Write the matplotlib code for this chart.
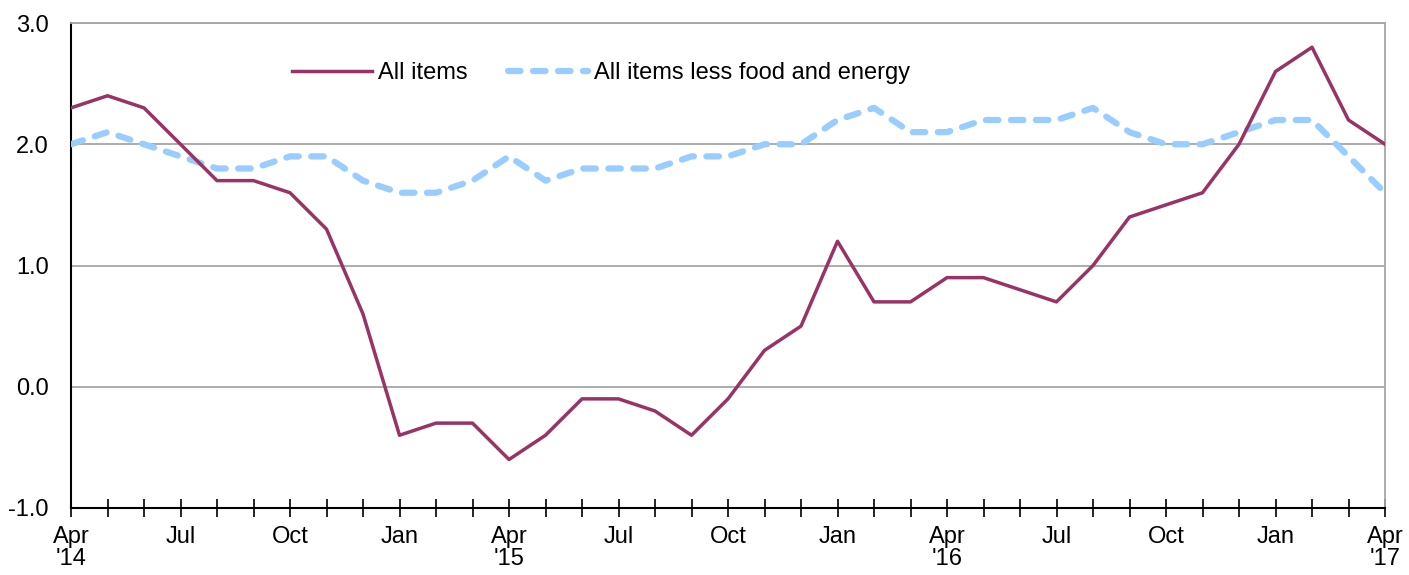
import matplotlib
matplotlib.use("Agg")
import matplotlib.pyplot as plt

months = ["Apr\n'14", "May", "Jun", "Jul", "Aug", "Sep", "Oct", "Nov", "Dec",
          "Jan", "Feb", "Mar", "Apr\n'15", "May", "Jun", "Jul", "Aug", "Sep", "Oct", "Nov", "Dec",
          "Jan", "Feb", "Mar", "Apr\n'16", "May", "Jun", "Jul", "Aug", "Sep", "Oct", "Nov", "Dec",
          "Jan", "Feb", "Mar", "Apr\n'17"]
all_items = [2.3, 2.4, 2.3, 2.0, 1.7, 1.7, 1.6, 1.3, 0.6,
             -0.4, -0.3, -0.3, -0.6, -0.4, -0.1, -0.1, -0.2, -0.4, -0.1, 0.3, 0.5,
             1.2, 0.7, 0.7, 0.9, 0.9, 0.8, 0.7, 1.0, 1.4, 1.5, 1.6, 2.0,
             2.6, 2.8, 2.2, 2.0]
core = [2.0, 2.1, 2.0, 1.9, 1.8, 1.8, 1.9, 1.9, 1.7,
        1.6, 1.6, 1.7, 1.9, 1.7, 1.8, 1.8, 1.8, 1.9, 1.9, 2.0, 2.0,
        2.2, 2.3, 2.1, 2.1, 2.2, 2.2, 2.2, 2.3, 2.1, 2.0, 2.0, 2.1,
        2.2, 2.2, 1.9, 1.6]
labeled = ["Apr", "Jul", "Oct", "Jan"]
yticks = [-1.0, 0.0, 1.0, 2.0, 3.0]

plt.rcParams['font.family'] = ['Liberation Sans', 'DejaVu Sans']

W, H = 1409, 575
FS = 17
fig = plt.figure(figsize=(W / 100, H / 100), dpi=100)
ax = fig.add_axes([71 / W, 1 - 508 / H, (1385 - 71) / W, (508 - 23) / H])

x = list(range(len(months)))
ax.plot(x, core, color='#99CCFF', lw=4.5, dashes=(2.0, 2.0),
        dash_capstyle='round', solid_joinstyle='round', label='All items less food and energy', zorder=3)
ax.plot(x, all_items, color='#993366', lw=2.5, solid_joinstyle='round',
        label='All items', zorder=4)

ax.set_xlim(0, len(months) - 1)
ax.set_ylim(-1, 3)
ax.set_yticks(yticks)
ax.set_yticklabels([f"{v:.1f}" for v in yticks])
ax.yaxis.grid(True, color='#A6A6A6', lw=1.3)
ax.set_axisbelow(True)

ax.set_xticks(x)
ax.set_xticklabels([m if m.split("\n")[0] in labeled else "" for m in months],
                   ha='center', linespacing=1.0)

ax.tick_params(axis='x', direction='inout', length=13, width=1.2, color='black',
               pad=6.5, labelsize=FS)
ax.tick_params(axis='y', length=0, pad=16, labelsize=FS)

for s in ['left', 'bottom']:
    ax.spines[s].set_color('black')
    ax.spines[s].set_linewidth(1.5)
for s in ['top', 'right']:
    ax.spines[s].set_color('#A6A6A6')
    ax.spines[s].set_linewidth(1.3)

h, l = ax.get_legend_handles_labels()
leg = ax.legend([h[1], h[0]], [l[1], l[0]], ncol=2, frameon=False,
                loc='center left', bbox_to_anchor=((292 - 71) / (1385 - 71), (508 - 73) / (508 - 23)),
                fontsize=FS, handlelength=3.4, handletextpad=0.25, columnspacing=1.7,
                borderaxespad=0, borderpad=0)

fig.savefig("out.png", dpi=100)
